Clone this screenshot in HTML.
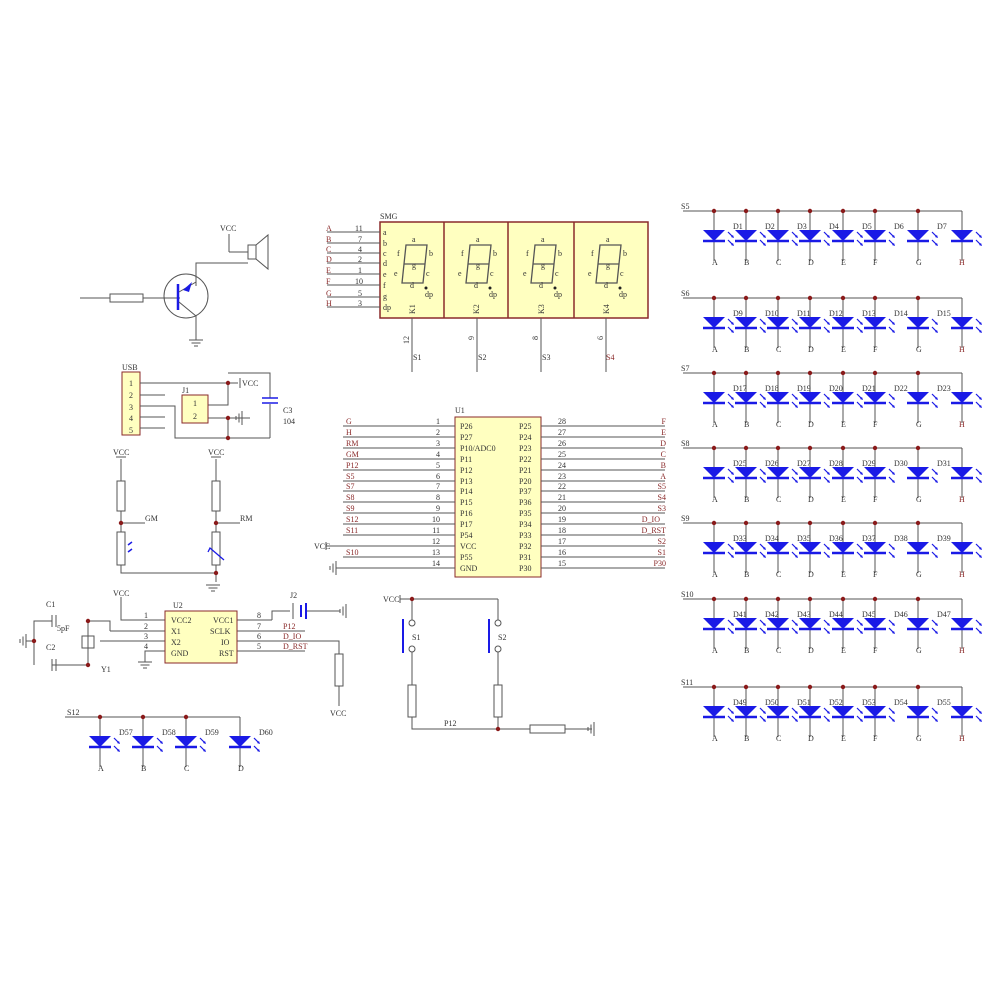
<!DOCTYPE html>
<html><head><meta charset="utf-8"><style>
html,body{margin:0;padding:0;background:#fff}
svg{display:block}
text{font-family:"Liberation Serif",serif;font-size:8px;fill:#333}
.r{fill:#8a2a2a}
</style></head><body>
<svg width="1000" height="1000" viewBox="0 0 1000 1000" xmlns="http://www.w3.org/2000/svg">
<defs>
<g id="led">
<line x1="0" y1="0" x2="0" y2="50" stroke="#555" stroke-width="1"/>
<polygon points="-11,19 11,19 0,30" fill="#1a1ae6"/>
<line x1="-11" y1="30" x2="11" y2="30" stroke="#1a1ae6" stroke-width="2.5"/>
<g stroke="#1a1ae6" stroke-width="1.2">
<line x1="14" y1="21" x2="19" y2="26"/><line x1="14" y1="29" x2="19" y2="34"/></g>
<polygon points="20,27 17,26 19,24" fill="#1a1ae6"/><polygon points="20,35 17,34 19,32" fill="#1a1ae6"/>
</g>
<circle id="dot" r="2.2" fill="#8a1a1a"/>
<g id="seg" fill="none" stroke="#555" stroke-width="1.3">
<path d="M4,0 H25 L23,19 H2 Z M2,19 L0,38 H21 L23,19"/>
</g>
<g id="gnd" stroke="#555" stroke-width="1"><line x1="-7" y1="0" x2="7" y2="0"/><line x1="-4.5" y1="3" x2="4.5" y2="3"/><line x1="-2" y1="6" x2="2" y2="6"/></g>
<g id="gndl" stroke="#555" stroke-width="1"><line x1="0" y1="-7" x2="0" y2="7"/><line x1="-3" y1="-4.5" x2="-3" y2="4.5"/><line x1="-6" y1="-2" x2="-6" y2="2"/></g>
</defs>

<!-- LED matrix -->
<g stroke="#555" stroke-width="1" fill="none">
<path d="M683,211 H962 V211"/><path d="M683,298 H962"/><path d="M683,373 H962"/><path d="M683,448 H962"/><path d="M683,523 H962"/><path d="M683,599 H962"/><path d="M683,687 H962"/>
</g>
<!-- rows -->
<g id="row1">
<use href="#led" x="714" y="211"/><use href="#led" x="746" y="211"/><use href="#led" x="778" y="211"/><use href="#led" x="810" y="211"/><use href="#led" x="843" y="211"/><use href="#led" x="875" y="211"/><use href="#led" x="918" y="211"/><use href="#led" x="962" y="211"/>
<use href="#dot" x="714" y="211"/><use href="#dot" x="746" y="211"/><use href="#dot" x="778" y="211"/><use href="#dot" x="810" y="211"/><use href="#dot" x="843" y="211"/><use href="#dot" x="875" y="211"/><use href="#dot" x="918" y="211"/>
</g>
<use href="#row1" y="87"/><use href="#row1" y="162"/><use href="#row1" y="237"/><use href="#row1" y="312"/><use href="#row1" y="388"/><use href="#row1" y="476"/>

<text x="681" y="209">S5</text><text x="681" y="296">S6</text><text x="681" y="371">S7</text><text x="681" y="446">S8</text><text x="681" y="521">S9</text><text x="681" y="597">S10</text><text x="681" y="685">S11</text>

<g>
<text x="733" y="229">D1</text><text x="765" y="229">D2</text><text x="797" y="229">D3</text><text x="829" y="229">D4</text><text x="862" y="229">D5</text><text x="894" y="229">D6</text><text x="937" y="229">D7</text>
<text x="733" y="316">D9</text><text x="765" y="316">D10</text><text x="797" y="316">D11</text><text x="829" y="316">D12</text><text x="862" y="316">D13</text><text x="894" y="316">D14</text><text x="937" y="316">D15</text>
<text x="733" y="391">D17</text><text x="765" y="391">D18</text><text x="797" y="391">D19</text><text x="829" y="391">D20</text><text x="862" y="391">D21</text><text x="894" y="391">D22</text><text x="937" y="391">D23</text>
<text x="733" y="466">D25</text><text x="765" y="466">D26</text><text x="797" y="466">D27</text><text x="829" y="466">D28</text><text x="862" y="466">D29</text><text x="894" y="466">D30</text><text x="937" y="466">D31</text>
<text x="733" y="541">D33</text><text x="765" y="541">D34</text><text x="797" y="541">D35</text><text x="829" y="541">D36</text><text x="862" y="541">D37</text><text x="894" y="541">D38</text><text x="937" y="541">D39</text>
<text x="733" y="617">D41</text><text x="765" y="617">D42</text><text x="797" y="617">D43</text><text x="829" y="617">D44</text><text x="862" y="617">D45</text><text x="894" y="617">D46</text><text x="937" y="617">D47</text>
<text x="733" y="705">D49</text><text x="765" y="705">D50</text><text x="797" y="705">D51</text><text x="829" y="705">D52</text><text x="862" y="705">D53</text><text x="894" y="705">D54</text><text x="937" y="705">D55</text>
</g>
<g id="lt1"><text x="712" y="265">A</text><text x="744" y="265">B</text><text x="776" y="265">C</text><text x="808" y="265">D</text><text x="841" y="265">E</text><text x="873" y="265">F</text><text x="916" y="265">G</text><text x="959" y="265" class="r">H</text></g>
<use href="#lt1" y="87"/><use href="#lt1" y="162"/><use href="#lt1" y="237"/><use href="#lt1" y="312"/><use href="#lt1" y="388"/><use href="#lt1" y="476"/>

<!-- SMG -->
<text x="380" y="219">SMG</text>
<rect x="380" y="222" width="268" height="96" fill="#ffffc0" stroke="#8a2a2a" stroke-width="1.5"/>
<g stroke="#8a2a2a" stroke-width="1.5"><line x1="444" y1="222" x2="444" y2="318"/><line x1="508" y1="222" x2="508" y2="318"/><line x1="574" y1="222" x2="574" y2="318"/></g>
<g stroke="#555">
<line x1="327" y1="232" x2="380" y2="232"/><line x1="327" y1="243" x2="380" y2="243"/><line x1="327" y1="253" x2="380" y2="253"/><line x1="327" y1="263" x2="380" y2="263"/><line x1="327" y1="274" x2="380" y2="274"/><line x1="327" y1="285" x2="380" y2="285"/><line x1="327" y1="297" x2="380" y2="297"/><line x1="327" y1="307" x2="380" y2="307"/>
<line x1="412" y1="318" x2="412" y2="372"/><line x1="477" y1="318" x2="477" y2="372"/><line x1="541" y1="318" x2="541" y2="372"/><line x1="606" y1="318" x2="606" y2="372"/>
</g>
<g class="r"><text x="326" y="231" class="r">A</text><text x="326" y="242" class="r">B</text><text x="326" y="252" class="r">C</text><text x="326" y="262" class="r">D</text><text x="326" y="273" class="r">E</text><text x="326" y="284" class="r">F</text><text x="326" y="296" class="r">G</text><text x="326" y="306" class="r">H</text></g>
<text x="355" y="231">11</text><text x="358" y="242">7</text><text x="358" y="252">4</text><text x="358" y="262">2</text><text x="358" y="273">1</text><text x="355" y="284">10</text><text x="358" y="296">5</text><text x="358" y="306">3</text>
<text x="383" y="235">a</text><text x="383" y="246">b</text><text x="383" y="256">c</text><text x="383" y="266">d</text><text x="383" y="277">e</text><text x="383" y="288">f</text><text x="383" y="299">g</text><text x="383" y="310">dp</text>
<g id="dig">
<use href="#seg" x="402" y="245"/>
<text x="412" y="242">a</text><text x="397" y="256">f</text><text x="429" y="256">b</text><text x="412" y="268">g</text><text x="394" y="276">e</text><text x="426" y="276">c</text><text x="410" y="288">d</text>
<circle cx="426" cy="288" r="1.5" fill="#222"/><text x="425" y="297">dp</text>
<text transform="translate(415,314) rotate(-90)">K1</text>
</g>
<g transform="translate(64,0)"><use href="#seg" x="402" y="245"/><text x="412" y="242">a</text><text x="397" y="256">f</text><text x="429" y="256">b</text><text x="412" y="268">g</text><text x="394" y="276">e</text><text x="426" y="276">c</text><text x="410" y="288">d</text><circle cx="426" cy="288" r="1.5" fill="#222"/><text x="425" y="297">dp</text><text transform="translate(415,314) rotate(-90)">K2</text></g>
<g transform="translate(129,0)"><use href="#seg" x="402" y="245"/><text x="412" y="242">a</text><text x="397" y="256">f</text><text x="429" y="256">b</text><text x="412" y="268">g</text><text x="394" y="276">e</text><text x="426" y="276">c</text><text x="410" y="288">d</text><circle cx="426" cy="288" r="1.5" fill="#222"/><text x="425" y="297">dp</text><text transform="translate(415,314) rotate(-90)">K3</text></g>
<g transform="translate(194,0)"><use href="#seg" x="402" y="245"/><text x="412" y="242">a</text><text x="397" y="256">f</text><text x="429" y="256">b</text><text x="412" y="268">g</text><text x="394" y="276">e</text><text x="426" y="276">c</text><text x="410" y="288">d</text><circle cx="426" cy="288" r="1.5" fill="#222"/><text x="425" y="297">dp</text><text transform="translate(415,314) rotate(-90)">K4</text></g>
<text transform="translate(409,344) rotate(-90)">12</text><text transform="translate(474,340) rotate(-90)">9</text><text transform="translate(538,340) rotate(-90)">8</text><text transform="translate(603,340) rotate(-90)">6</text>
<text x="413" y="360">S1</text><text x="478" y="360">S2</text><text x="542" y="360">S3</text><text x="606" y="360" class="r">S4</text>

<!-- U1 -->
<text x="455" y="413">U1</text>
<rect x="455" y="417" width="86" height="160" fill="#ffffc0" stroke="#8a2a2a" stroke-width="1"/>
<g stroke="#555">
<line x1="343" y1="426" x2="455" y2="426"/><line x1="343" y1="437" x2="455" y2="437"/><line x1="343" y1="448" x2="455" y2="448"/><line x1="343" y1="459" x2="455" y2="459"/><line x1="343" y1="470" x2="455" y2="470"/><line x1="343" y1="481" x2="455" y2="481"/><line x1="343" y1="491" x2="455" y2="491"/><line x1="343" y1="502" x2="455" y2="502"/><line x1="343" y1="513" x2="455" y2="513"/><line x1="343" y1="524" x2="455" y2="524"/><line x1="343" y1="535" x2="455" y2="535"/><line x1="326" y1="546" x2="455" y2="546"/><line x1="343" y1="557" x2="455" y2="557"/><line x1="336" y1="568" x2="455" y2="568"/>
<line x1="541" y1="426" x2="665" y2="426"/><line x1="541" y1="437" x2="665" y2="437"/><line x1="541" y1="448" x2="665" y2="448"/><line x1="541" y1="459" x2="665" y2="459"/><line x1="541" y1="470" x2="665" y2="470"/><line x1="541" y1="481" x2="665" y2="481"/><line x1="541" y1="491" x2="665" y2="491"/><line x1="541" y1="502" x2="665" y2="502"/><line x1="541" y1="513" x2="665" y2="513"/><line x1="541" y1="524" x2="665" y2="524"/><line x1="541" y1="535" x2="665" y2="535"/><line x1="541" y1="546" x2="665" y2="546"/><line x1="541" y1="557" x2="665" y2="557"/><line x1="541" y1="568" x2="665" y2="568"/>
<line x1="326" y1="542" x2="326" y2="550"/>
</g>
<use href="#gndl" x="336" y="568"/>
<g class="r">
<text x="346" y="424" class="r">G</text><text x="346" y="435" class="r">H</text><text x="346" y="446" class="r">RM</text><text x="346" y="457" class="r">GM</text><text x="346" y="468" class="r">P12</text><text x="346" y="479" class="r">S5</text><text x="346" y="489" class="r">S7</text><text x="346" y="500" class="r">S8</text><text x="346" y="511" class="r">S9</text><text x="346" y="522" class="r">S12</text><text x="346" y="533" class="r">S11</text><text x="346" y="555" class="r">S10</text>
</g>
<text x="314" y="549" font-size="7">VCC</text>
<g text-anchor="end">
<text x="440" y="424">1</text><text x="440" y="435">2</text><text x="440" y="446">3</text><text x="440" y="457">4</text><text x="440" y="468">5</text><text x="440" y="479">6</text><text x="440" y="489">7</text><text x="440" y="500">8</text><text x="440" y="511">9</text><text x="440" y="522">10</text><text x="440" y="533">11</text><text x="440" y="544">12</text><text x="440" y="555">13</text><text x="440" y="566">14</text>
</g>
<text x="460" y="429">P26</text><text x="460" y="440">P27</text><text x="460" y="451">P10/ADC0</text><text x="460" y="462">P11</text><text x="460" y="473">P12</text><text x="460" y="484">P13</text><text x="460" y="494">P14</text><text x="460" y="505">P15</text><text x="460" y="516">P16</text><text x="460" y="527">P17</text><text x="460" y="538">P54</text><text x="460" y="549">VCC</text><text x="460" y="560">P55</text><text x="460" y="571">GND</text>
<text x="519" y="429">P25</text><text x="519" y="440">P24</text><text x="519" y="451">P23</text><text x="519" y="462">P22</text><text x="519" y="473">P21</text><text x="519" y="484">P20</text><text x="519" y="494">P37</text><text x="519" y="505">P36</text><text x="519" y="516">P35</text><text x="519" y="527">P34</text><text x="519" y="538">P33</text><text x="519" y="549">P32</text><text x="519" y="560">P31</text><text x="519" y="571">P30</text>
<text x="558" y="424">28</text><text x="558" y="435">27</text><text x="558" y="446">26</text><text x="558" y="457">25</text><text x="558" y="468">24</text><text x="558" y="479">23</text><text x="558" y="489">22</text><text x="558" y="500">21</text><text x="558" y="511">20</text><text x="558" y="522">19</text><text x="558" y="533">18</text><text x="558" y="544">17</text><text x="558" y="555">16</text><text x="558" y="566">15</text>
<g text-anchor="end">
<text x="666" y="424" class="r">F</text><text x="666" y="435" class="r">E</text><text x="666" y="446" class="r">D</text><text x="666" y="457" class="r">C</text><text x="666" y="468" class="r">B</text><text x="666" y="479" class="r">A</text><text x="666" y="489" class="r">S5</text><text x="666" y="500" class="r">S4</text><text x="666" y="511" class="r">S3</text><text x="660" y="522" class="r">D_IO</text><text x="666" y="533" class="r">D_RST</text><text x="666" y="544" class="r">S2</text><text x="666" y="555" class="r">S1</text><text x="666" y="566" class="r">P30</text>
</g>

<!-- Buzzer -->
<g stroke="#555" fill="none">
<line x1="229" y1="234" x2="229" y2="252"/><polyline points="229,252 248,252"/><rect x="248" y="245" width="8" height="14"/><polygon points="256,245 268,235 268,269 256,259"/>
<polyline points="196,286 196,263 248,263"/>
<line x1="80" y1="298" x2="110" y2="298"/><rect x="110" y="294" width="33" height="8"/><line x1="143" y1="298" x2="178" y2="298"/>
<circle cx="186" cy="296" r="22"/>
<polyline points="196,316 196,340"/>
<line x1="178" y1="298" x2="180" y2="298"/>
</g>
<line x1="178" y1="284" x2="178" y2="310" stroke="#1a1ae6" stroke-width="2.5"/>
<line x1="179" y1="292" x2="196" y2="282" stroke="#555"/><line x1="179" y1="302" x2="196" y2="316" stroke="#555"/>
<polygon points="183,290 192,282 189,292" fill="#1a1ae6"/>
<use href="#gnd" x="196" y="340"/>
<text x="220" y="231" font-size="7">VCC</text>

<!-- USB -->
<text x="122" y="370">USB</text>
<rect x="122" y="372" width="18" height="63" fill="#ffffc0" stroke="#8a2a2a"/>
<text x="129" y="386">1</text><text x="129" y="398">2</text><text x="129" y="410">3</text><text x="129" y="421">4</text><text x="129" y="433">5</text>
<g stroke="#555" fill="none">
<line x1="140" y1="383" x2="238" y2="383"/><line x1="140" y1="395" x2="165" y2="395"/><polyline points="140,406 175,406 175,438 270,438"/><line x1="140" y1="417" x2="165" y2="417"/><line x1="140" y1="428" x2="165" y2="428"/>
<polyline points="208,405 228,405 228,383"/><polyline points="208,418 250,418"/><line x1="228" y1="418" x2="228" y2="438"/>
<polyline points="228,373 270,373 270,398"/><line x1="270" y1="404" x2="270" y2="438"/>
<line x1="240" y1="378" x2="240" y2="388"/>
</g>
<rect x="182" y="395" width="26" height="28" fill="#ffffc0" stroke="#8a2a2a"/>
<text x="182" y="393">J1</text><text x="193" y="406">1</text><text x="193" y="419">2</text>
<line x1="262" y1="398" x2="278" y2="398" stroke="#1a1ae6" stroke-width="1.5"/><line x1="262" y1="403" x2="278" y2="403" stroke="#1a1ae6" stroke-width="1.5"/>
<g transform="translate(242,418)"><use href="#gndl"/></g>
<use href="#dot" x="228" y="383"/><use href="#dot" x="228" y="418"/><use href="#dot" x="228" y="438"/>
<text x="242" y="386">VCC</text><text x="283" y="413">C3</text><text x="283" y="424">104</text>

<!-- GM RM -->
<g stroke="#555" fill="none">
<line x1="121" y1="459" x2="121" y2="481"/><rect x="117" y="481" width="8" height="30"/><line x1="121" y1="511" x2="121" y2="532"/><line x1="121" y1="523" x2="145" y2="523"/><rect x="117" y="532" width="8" height="33"/><polyline points="121,565 121,573 216,573"/>
<line x1="216" y1="459" x2="216" y2="481"/><rect x="212" y="481" width="8" height="30"/><line x1="216" y1="511" x2="216" y2="532"/><line x1="216" y1="523" x2="240" y2="523"/><rect x="212" y="532" width="8" height="33"/><line x1="216" y1="565" x2="216" y2="582"/>
<line x1="116" y1="457" x2="126" y2="457"/><line x1="211" y1="457" x2="221" y2="457"/>
</g>
<path d="M208,552 L210,548 L224,560" stroke="#1a1ae6" fill="none" stroke-width="1.3"/>
<path d="M128,545 L132,542 M128,552 L132,549" stroke="#1a1ae6" stroke-width="1.5"/>
<use href="#dot" x="121" y="523"/><use href="#dot" x="216" y="523"/><use href="#dot" x="216" y="573"/>
<use href="#gnd" x="213" y="585"/>
<text x="113" y="455" font-size="7">VCC</text><text x="208" y="455" font-size="7">VCC</text><text x="145" y="521">GM</text><text x="240" y="521">RM</text>

<!-- U2 -->
<g stroke="#555" fill="none">
<polyline points="121,597 121,620 165,620"/><polyline points="110,631 110,621 88,621 88,665 52,665"/>
<line x1="110" y1="631" x2="165" y2="631"/><polyline points="100,641 165,641"/><polyline points="165,651 145,651 145,662"/>
<polyline points="52,621 34,621 34,665"/><line x1="34" y1="641" x2="26" y2="641"/>
<line x1="237" y1="620" x2="272" y2="620"/><polyline points="272,620 272,611 290,611"/>
<line x1="237" y1="631" x2="305" y2="631"/><line x1="237" y1="641" x2="335" y2="641"/><line x1="237" y1="651" x2="305" y2="651"/>
<polyline points="335,641 339,641 339,654"/><rect x="335" y="654" width="8" height="32"/><line x1="339" y1="686" x2="339" y2="706"/>
<line x1="306" y1="611" x2="340" y2="611"/>
<rect x="82" y="636" width="12" height="12"/><line x1="88" y1="630" x2="88" y2="636"/><line x1="88" y1="648" x2="88" y2="654"/>
</g>
<line x1="88" y1="621" x2="88" y2="630" stroke="#555"/>
<line x1="52" y1="615" x2="52" y2="627" stroke="#555"/><line x1="56" y1="615" x2="56" y2="627" stroke="#555"/>
<line x1="52" y1="659" x2="52" y2="671" stroke="#555"/><line x1="56" y1="659" x2="56" y2="671" stroke="#555"/>
<line x1="293" y1="603" x2="293" y2="619" stroke="#555"/><line x1="301" y1="605" x2="301" y2="617" stroke="#1a1ae6" stroke-width="2"/><line x1="306" y1="603" x2="306" y2="619" stroke="#1a1ae6" stroke-width="2"/>
<use href="#gndl" x="346" y="611"/><use href="#gndl" x="26" y="641"/><use href="#gnd" x="145" y="662"/>
<use href="#dot" x="88" y="621"/><use href="#dot" x="88" y="665"/><use href="#dot" x="34" y="641"/>
<rect x="165" y="611" width="72" height="52" fill="#ffffc0" stroke="#8a2a2a"/>
<text x="173" y="608">U2</text><text x="113" y="596" font-size="7">VCC</text>
<text x="171" y="623">VCC2</text><text x="171" y="634">X1</text><text x="171" y="645">X2</text><text x="171" y="656">GND</text>
<text x="213" y="623">VCC1</text><text x="210" y="634">SCLK</text><text x="221" y="645">IO</text><text x="219" y="656">RST</text>
<text x="144" y="618">1</text><text x="144" y="629">2</text><text x="144" y="639">3</text><text x="144" y="649">4</text>
<text x="257" y="618">8</text><text x="257" y="629">7</text><text x="257" y="639">6</text><text x="257" y="649">5</text>
<text x="283" y="629" class="r">P12</text><text x="283" y="639" class="r">D_IO</text><text x="283" y="649" class="r">D_RST</text>
<text x="290" y="598">J2</text><text x="46" y="607">C1</text><text x="46" y="650">C2</text><text x="57" y="631" font-size="7">5pF</text><text x="101" y="672">Y1</text>
<text x="330" y="716" font-size="7">VCC</text>

<!-- S12 LEDs -->
<line x1="65" y1="717" x2="240" y2="717" stroke="#555"/>
<use href="#led" x="100" y="717"/><use href="#led" x="143" y="717"/><use href="#led" x="186" y="717"/><use href="#led" x="240" y="717"/>
<use href="#dot" x="100" y="717"/><use href="#dot" x="143" y="717"/><use href="#dot" x="186" y="717"/>
<text x="67" y="715">S12</text>
<text x="119" y="735">D57</text><text x="162" y="735">D58</text><text x="205" y="735">D59</text><text x="259" y="735">D60</text>
<text x="98" y="771">A</text><text x="141" y="771">B</text><text x="184" y="771">C</text><text x="238" y="771">D</text>

<!-- Buttons -->
<g stroke="#555" fill="none">
<line x1="400" y1="599" x2="498" y2="599"/><line x1="400" y1="595" x2="400" y2="603"/>
<line x1="412" y1="599" x2="412" y2="620"/><circle cx="412" cy="623" r="3"/><circle cx="412" cy="649" r="3"/><line x1="412" y1="652" x2="412" y2="685"/>
<line x1="498" y1="599" x2="498" y2="620"/><circle cx="498" cy="623" r="3"/><circle cx="498" cy="649" r="3"/><line x1="498" y1="652" x2="498" y2="685"/>
<rect x="408" y="685" width="8" height="32"/><rect x="494" y="685" width="8" height="32"/>
<polyline points="412,717 412,729 530,729"/><line x1="498" y1="717" x2="498" y2="729"/><rect x="530" y="725" width="35" height="8"/><line x1="565" y1="729" x2="592" y2="729"/>
</g>
<line x1="403" y1="619" x2="403" y2="653" stroke="#1a1ae6" stroke-width="2"/><line x1="489" y1="619" x2="489" y2="653" stroke="#1a1ae6" stroke-width="2"/>
<use href="#gndl" x="594" y="729"/>
<use href="#dot" x="412" y="599"/><use href="#dot" x="498" y="729"/>
<text x="383" y="602" font-size="7">VCC</text><text x="412" y="640">S1</text><text x="498" y="640">S2</text><text x="444" y="726">P12</text>
</svg>
</body></html>
